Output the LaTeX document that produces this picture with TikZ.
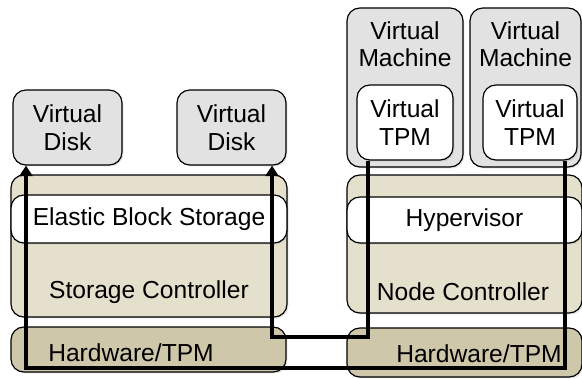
\documentclass[tikz,border=0pt]{standalone}
\usepackage{fontspec}
\setmainfont{Liberation Sans}
\usetikzlibrary{arrows.meta,shadows}
\definecolor{vgray}{RGB}{226,226,226}
\definecolor{ctrltan}{RGB}{229,224,204}
\definecolor{hwtan}{RGB}{207,199,170}
\begin{document}
\begin{tikzpicture}[x=0.03cm, y=-0.03cm,
    every node/.style={font=\fontsize{21}{23.5}\selectfont, align=center},
    box/.style={draw=black, line width=1pt, rounded corners=11pt, inner sep=0pt,
        drop shadow={opacity=0.25, shadow xshift=1.2pt, shadow yshift=-1.2pt}},
    vbox/.style={box, fill=vgray},
    ctrl/.style={box, fill=ctrltan},
    band/.style={box, fill=white, drop shadow={opacity=0}},
    hw/.style={box, fill=hwtan},
    flow/.style={line width=3pt}]
    \useasboundingbox (0,0) rectangle (582,378);

    % storage side
    \node[ctrl, minimum width=8.28cm, minimum height=4.26cm] (sc) at (149,246) {};
    \node[band, minimum width=8.28cm, minimum height=1.44cm] (ebs) at (149,219) {Elastic Block Storage};
    \node (sclabel) at (149,292) {Storage Controller};
    \node[hw, minimum width=8.25cm, minimum height=1.35cm] (hw1) at (148.5,349.5) {};
    \node (hw1label) at (131,353) {Hardware/TPM};
    \node[vbox, minimum width=3.27cm, minimum height=2.25cm] (disk1) at (67.5,127.5) {Virtual\\Disk};
    \node[vbox, minimum width=3.27cm, minimum height=2.25cm] (disk2) at (231.5,127.5) {Virtual\\Disk};

    % node side
    \node[ctrl, minimum width=7.05cm, minimum height=4.14cm] (nc) at (464.5,244) {};
    \node[band, minimum width=7.05cm, minimum height=1.38cm] (hyp) at (464.5,220) {Hypervisor};
    \node (nclabel) at (463,292) {Node Controller};
    \node[hw, minimum width=7.05cm, minimum height=1.47cm] (hw2) at (464.5,352.5) {};
    \node (hw2label) at (479,354) {Hardware/TPM};
    \node[vbox, minimum width=3.48cm, minimum height=4.77cm] (vm1) at (405,87.5) {};
    \node (vm1label) at (405,44) {Virtual\\Machine};
    \node[vbox, minimum width=3.33cm, minimum height=4.77cm] (vm2) at (525.5,87.5) {};
    \node (vm2label) at (525.5,44) {Virtual\\Machine};
    \node[box, fill=white, minimum width=2.88cm, minimum height=2.25cm] (vtpm1) at (405,122.5) {Virtual\\TPM};
    \node[box, fill=white, minimum width=2.82cm, minimum height=2.25cm] (vtpm2) at (530,122.5) {Virtual\\TPM};

    \draw[flow, -{Triangle[length=9pt,width=11pt]}] (565,0 |- vtpm2.south) -- (565,368) -| (26,0 |- disk1.south);
    \draw[flow, -{Triangle[length=9pt,width=11pt]}] (368,0 |- vtpm1.south) -- (368,337) -| (272,0 |- disk2.south);
\end{tikzpicture}
\end{document}
